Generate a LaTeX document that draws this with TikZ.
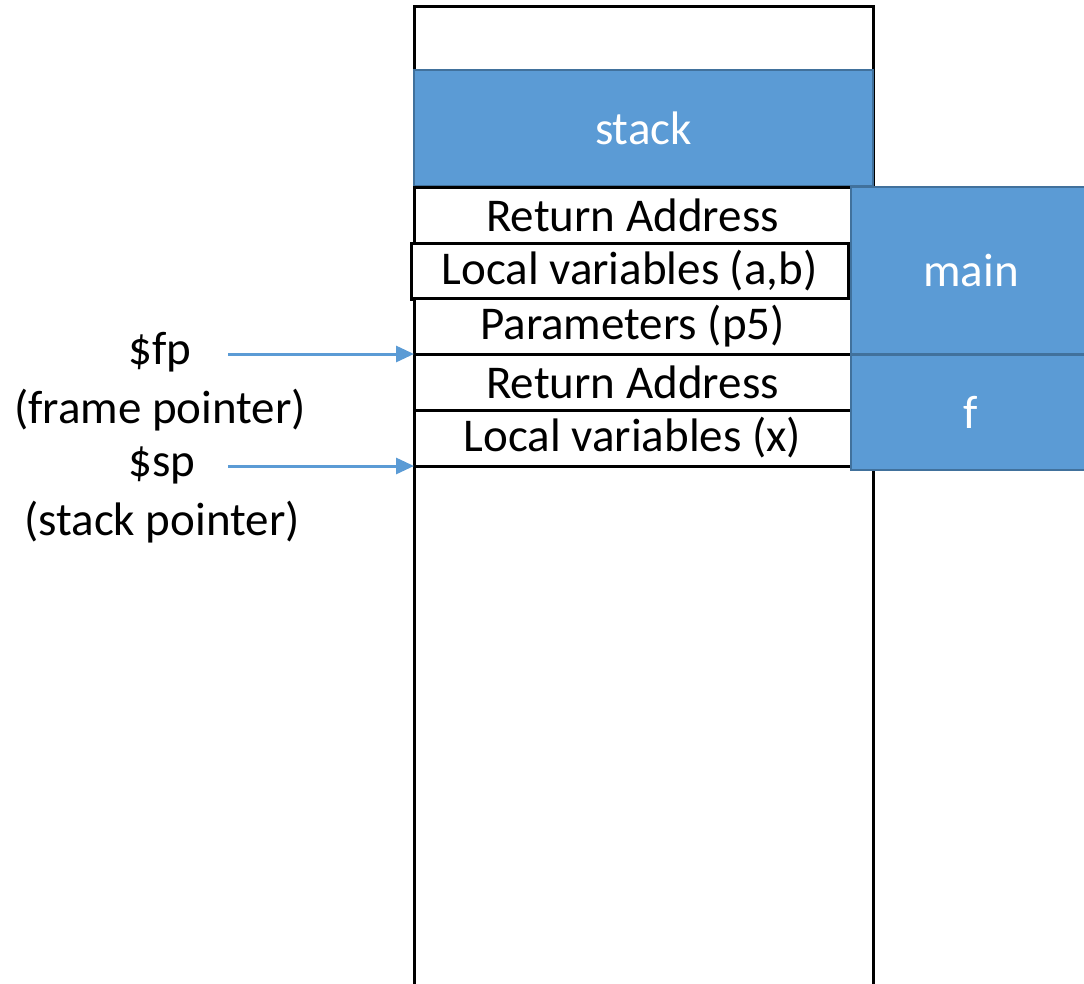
\documentclass[tikz,border=0pt]{standalone}
\usepackage{fontspec}
\setmainfont{Carlito}
\usetikzlibrary{arrows.meta}
\definecolor{msblue}{HTML}{5B9BD5}
\definecolor{msedge}{HTML}{41719C}
\begin{document}
\begin{tikzpicture}[x=1pt,y=-1pt,
  cell/.style={draw=black,line width=3pt,fill=white,anchor=north west,minimum width=437pt,minimum height=56pt,inner sep=0pt,outer sep=0pt,font=\fontsize{47}{54}\selectfont},
  bluebox/.style={draw=msedge,line width=2pt,fill=msblue,anchor=north west,inner sep=0pt,outer sep=0pt,text=white,font=\fontsize{47}{54}\selectfont},
  lbl/.style={inner sep=0pt,font=\fontsize{47}{54}\selectfont},
  ptr/.style={draw=msblue,line width=3pt,-{Triangle[length=18pt,width=16pt]}}]
\useasboundingbox (0,0) rectangle (1084,983);
% column outline
\draw[line width=3pt] (414,995) -- (414,6) -- (873,6) -- (873,995);
\node[bluebox,minimum width=459pt,minimum height=116pt] (stack) at (414,70) {stack};
\node[cell] (ra1) at (414,187) {Return Address};
\node[cell] (lv1) at (411,243) {Local variables (a,b)};
\node[cell] (par) at (414,298) {Parameters (p5)};
\node[cell] (ra2) at (414,354) {Return Address};
\node[cell] (lv2) at (414,410) {Local variables (x)};
\node[bluebox,minimum width=240pt,minimum height=167pt] (main) at (851,187) {main};
\node[bluebox,minimum width=240pt,minimum height=115pt] (f) at (851,355) {f};
% pointer labels
\node[lbl] (fp) at (160,352) {\$fp};
\node[lbl] (fpl) at (160,410) {(frame pointer)};
\node[lbl] (sp) at (162,465) {\$sp};
\node[lbl] (spl) at (162,522) {(stack pointer)};
\coordinate (fpa) at (228,354);
\coordinate (spa) at (228,466);
\draw[ptr] (fpa) -- (fpa -| par.west);
\draw[ptr] (spa) -- (spa -| lv2.west);
\end{tikzpicture}
\end{document}
